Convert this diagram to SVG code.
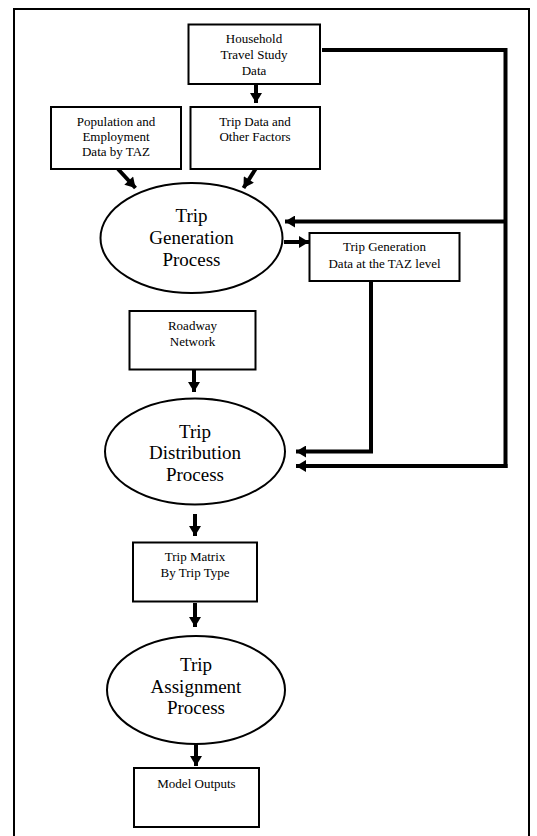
<svg xmlns="http://www.w3.org/2000/svg" width="537" height="836" viewBox="0 0 537 836">
<defs>
<marker id="ah" markerUnits="userSpaceOnUse" markerWidth="12" markerHeight="12" viewBox="0 0 10 12" refX="10" refY="6" orient="auto">
<path d="M0,0 L10,6 L0,12 z" fill="#000"/>
</marker>
</defs>
<style>
.box{fill:#fff;stroke:#000;stroke-width:2}
.ell{fill:#fff;stroke:#000;stroke-width:2}
.t{font-family:"Liberation Serif","Times New Roman",serif;font-size:13px;fill:#000;text-anchor:middle}
.b{font-family:"Liberation Serif","Times New Roman",serif;font-size:19px;fill:#000;text-anchor:middle}
.c{fill:none;stroke:#000;stroke-width:4}
.a{fill:none;stroke:#000;stroke-width:4;marker-end:url(#ah)}
</style>
<rect x="0" y="0" width="537" height="836" fill="#fff"/>
<rect x="14" y="9" width="515" height="840" fill="none" stroke="#000" stroke-width="2"/>
<g id="connectors">
<line class="a" x1="256" y1="84" x2="256" y2="103"/>
<line class="a" x1="118" y1="169" x2="135.5" y2="188"/>
<line class="a" x1="255.5" y1="169" x2="243.5" y2="188"/>
<polyline class="c" points="322,50 505.5,50 505.5,468"/>
<line class="a" x1="505.5" y1="221.5" x2="285" y2="221.5"/>
<line class="a" x1="284" y1="242" x2="309" y2="242"/>
<polyline class="a" points="371,281 371,451.5 296,451.5"/>
<polyline class="a" points="505.5,464 505.5,466 296,466"/>
<line class="a" x1="194" y1="370" x2="194" y2="392"/>
<line class="a" x1="195" y1="514" x2="195" y2="536"/>
<line class="a" x1="195" y1="603" x2="195" y2="627"/>
<line class="a" x1="196" y1="744" x2="196" y2="766"/>
</g>
<g id="household">
<rect class="box" x="188.5" y="24.5" width="131.5" height="59.5"/>
<text class="t" x="254" y="43">Household</text>
<text class="t" x="254" y="59">Travel Study</text>
<text class="t" x="254" y="75">Data</text>
</g>
<g id="population">
<rect class="box" x="51" y="107" width="130" height="62"/>
<text class="t" x="116" y="126">Population and</text>
<text class="t" x="116" y="141">Employment</text>
<text class="t" x="116" y="156">Data by TAZ</text>
</g>
<g id="tripdata">
<rect class="box" x="190.5" y="107" width="129.5" height="62"/>
<text class="t" x="255" y="126">Trip Data and</text>
<text class="t" x="255" y="141">Other Factors</text>
</g>
<g id="tripgen">
<ellipse class="ell" cx="191.5" cy="238" rx="91" ry="55"/>
<text class="b" x="191.5" y="221.5">Trip</text>
<text class="b" x="191.5" y="243.5">Generation</text>
<text class="b" x="191.5" y="265.5">Process</text>
</g>
<g id="tripgendata">
<rect class="box" x="309.5" y="233" width="150" height="48"/>
<text class="t" x="384.5" y="251">Trip Generation</text>
<text class="t" x="384.5" y="267.5">Data at the TAZ level</text>
</g>
<g id="roadway">
<rect class="box" x="129.5" y="311" width="126" height="58.5"/>
<text class="t" x="192.5" y="330">Roadway</text>
<text class="t" x="192.5" y="346">Network</text>
</g>
<g id="tripdist">
<ellipse class="ell" cx="195" cy="451.5" rx="90" ry="53"/>
<text class="b" x="195" y="437.5">Trip</text>
<text class="b" x="195" y="458.5">Distribution</text>
<text class="b" x="195" y="480.5">Process</text>
</g>
<g id="tripmatrix">
<rect class="box" x="133" y="542.5" width="124" height="59"/>
<text class="t" x="195" y="560.5">Trip Matrix</text>
<text class="t" x="195" y="577">By Trip Type</text>
</g>
<g id="tripassign">
<ellipse class="ell" cx="196" cy="690" rx="89" ry="54"/>
<text class="b" x="196" y="671">Trip</text>
<text class="b" x="196" y="692.5">Assignment</text>
<text class="b" x="196" y="714">Process</text>
</g>
<g id="outputs">
<rect class="box" x="134" y="768" width="125" height="59"/>
<text class="t" x="196.5" y="788">Model Outputs</text>
</g>
</svg>
